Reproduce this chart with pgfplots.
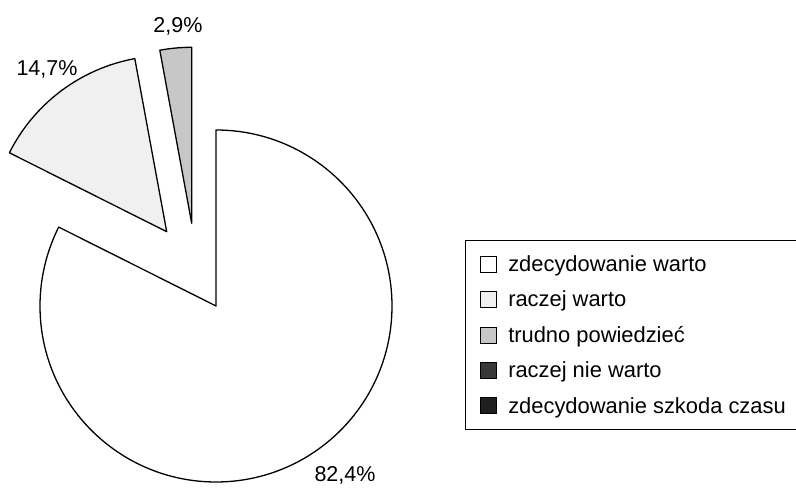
\documentclass[border=0pt]{standalone}
\usepackage{fontspec}
\setmainfont{Liberation Sans}
\usepackage{pgfplots}
\pgfplotsset{compat=1.18}
\definecolor{sliceA}{gray}{1}
\definecolor{sliceB}{gray}{0.94}
\definecolor{sliceC}{gray}{0.78}
\definecolor{sliceD}{gray}{0.22}
\definecolor{sliceE}{gray}{0.12}
% shares in percent
\def\vA{82.4}\def\vB{14.7}\def\vC{2.9}\def\vD{0}\def\vE{0}
\pgfmathsetmacro\aZero{90}
\pgfmathsetmacro\aOne{90-3.6*\vA}
\pgfmathsetmacro\aTwo{\aOne-3.6*\vB}
\pgfmathsetmacro\aThree{\aTwo-3.6*\vC}
\newcommand\slice[5]{%
  \filldraw[fill=#5, draw=black, line width=1.3pt, line join=round]
    (axis cs:#1,#2) -- (axis cs:{#1+176*cos(#3)},{#2+176*sin(#3)})
    arc[start angle=#3, end angle=#4, radius=176pt] -- cycle;}
\begin{document}
\begin{tikzpicture}
\begin{axis}[
  x=1pt, y=1pt, xmin=0, xmax=796, ymin=0, ymax=486,
  scale only axis, hide axis, clip=false,
  legend cell align=left,
  legend style={at={(axis cs:465,246)}, anchor=north west, overlay,
    draw=black, line width=0.9pt, fill=white,
    font=\fontsize{21.9}{26}\selectfont,
    inner xsep=15pt, inner ysep=13pt, row sep=14pt,
    /tikz/every odd column/.append style={column sep=9pt}},
]
\addlegendimage{legend image code/.code={\filldraw[fill=sliceA,draw=black,line width=0.8pt] (0pt,-8pt) rectangle (16pt,8pt);}}
\addlegendimage{legend image code/.code={\filldraw[fill=sliceB,draw=black,line width=0.8pt] (0pt,-8pt) rectangle (16pt,8pt);}}
\addlegendimage{legend image code/.code={\filldraw[fill=sliceC,draw=black,line width=0.8pt] (0pt,-8pt) rectangle (16pt,8pt);}}
\addlegendimage{legend image code/.code={\filldraw[fill=sliceD,draw=black,line width=0.8pt] (0pt,-8pt) rectangle (16pt,8pt);}}
\addlegendimage{legend image code/.code={\filldraw[fill=sliceE,draw=black,line width=0.8pt] (0pt,-8pt) rectangle (16pt,8pt);}}
\legend{zdecydowanie warto, raczej warto, trudno powiedzieć, raczej nie warto, zdecydowanie szkoda czasu}
\path (axis cs:0,0) rectangle (axis cs:796,486);
\slice{216}{180}{\aZero}{\aOne}{sliceA}
\slice{166.7}{254.3}{\aOne}{\aTwo}{sliceB}
\slice{191.7}{262.7}{\aTwo}{\aThree}{sliceC}
\node[font=\fontsize{21.5}{26}\selectfont] at (axis cs:178,460) {2,9\%};
\node[font=\fontsize{21.5}{26}\selectfont] at (axis cs:47,417) {14,7\%};
\node[font=\fontsize{21.5}{26}\selectfont] at (axis cs:345,11) {82,4\%};
\end{axis}
\end{tikzpicture}
\end{document}
